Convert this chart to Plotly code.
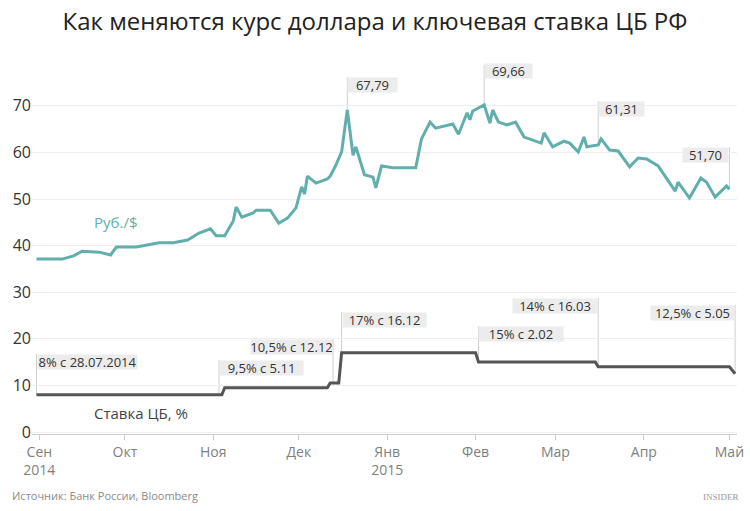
import numpy as np
import pandas as pd
import plotly.graph_objects as go

# ---------------- data ----------------
usd_dates = ["2014-08-31", "2014-09-09", "2014-09-13", "2014-09-16", "2014-09-22", "2014-09-26", "2014-09-28",
             "2014-10-05", "2014-10-13", "2014-10-18", "2014-10-23", "2014-10-27", "2014-10-31", "2014-11-02",
             "2014-11-05", "2014-11-08", "2014-11-09", "2014-11-11", "2014-11-15", "2014-11-16", "2014-11-21",
             "2014-11-24", "2014-11-27", "2014-11-30", "2014-12-02", "2014-12-03", "2014-12-04", "2014-12-07",
             "2014-12-11", "2014-12-12", "2014-12-14", "2014-12-16", "2014-12-18", "2014-12-20", "2014-12-21",
             "2014-12-24", "2014-12-27", "2014-12-28", "2014-12-30", "2015-01-03", "2015-01-11", "2015-01-13",
             "2015-01-16", "2015-01-18", "2015-01-24", "2015-01-26", "2015-01-29", "2015-01-30", "2015-01-31",
             "2015-02-04", "2015-02-06", "2015-02-07", "2015-02-09", "2015-02-12", "2015-02-15", "2015-02-18",
             "2015-02-24", "2015-02-25", "2015-02-28", "2015-03-04", "2015-03-06", "2015-03-09", "2015-03-11",
             "2015-03-12", "2015-03-16", "2015-03-17", "2015-03-20", "2015-03-23", "2015-03-27", "2015-03-30",
             "2015-04-02", "2015-04-06", "2015-04-12", "2015-04-13", "2015-04-17", "2015-04-21", "2015-04-23",
             "2015-04-26", "2015-04-30", "2015-05-01"]
usd_values = [37.1, 37.1, 37.8, 38.8, 38.6, 38.0, 39.7, 39.7, 40.6, 40.6,
              41.2, 42.7, 43.6, 42.1, 42.1, 45.3, 48.3, 46.1, 47.0, 47.6,
              47.6, 44.8, 45.9, 48.1, 52.6, 51.1, 54.9, 53.4, 54.3, 54.9,
              57.3, 60.1, 69.1, 59.4, 61.2, 55.2, 54.7, 52.4, 57.1, 56.7,
              56.7, 62.9, 66.5, 65.2, 66.1, 63.9, 68.5, 67.0, 68.9, 70.2,
              66.3, 69.1, 66.5, 65.9, 66.5, 63.3, 62.0, 64.2, 61.2, 62.4,
              62.0, 60.1, 63.3, 61.2, 61.6, 62.9, 60.5, 60.3, 56.9, 58.8,
              58.6, 57.1, 51.7, 53.6, 50.2, 54.5, 53.6, 50.4, 52.8, 52.1]

rate_dates = ["2014-08-31", "2014-11-04", "2014-11-05", "2014-12-11", "2014-12-12", "2014-12-15",
              "2014-12-16", "2015-02-01", "2015-02-02", "2015-03-15", "2015-03-16", "2015-05-01", "2015-05-03"]
rate_values = [8.0, 8.0, 9.5, 9.5, 10.5, 10.5, 17.0, 17.0, 15.0, 15.0, 14.0, 14.0, 12.5]

month_ticks = ["2014-09-01", "2014-10-01", "2014-11-01", "2014-12-01", "2015-01-01",
               "2015-02-01", "2015-03-01", "2015-04-01", "2015-05-01"]
month_labels = ["Сен<br>2014", "Окт", "Ноя", "Дек", "Янв<br>2015", "Фев", "Мар", "Апр", "Май"]
y_ticks = [0, 10, 20, 30, 40, 50, 60, 70]

usd_note_dates = ["2014-12-18", "2015-02-04", "2015-03-16", "2015-05-01"]
usd_note_texts = ["67,79", "69,66", "61,31", "51,70"]
usd_note_side = ["right", "right", "right", "left"]
usd_note_lift = [33, 42, 44, 42]
usd_note_width = [49, 47, 45, 45]

rate_note_dates = ["2014-08-31", "2014-11-03", "2014-12-13", "2014-12-16", "2015-02-02", "2015-03-16", "2015-05-03"]
rate_note_texts = ["8% с 28.07.2014", "9,5% с 5.11", "10,5% с 12.12", "17% с 16.12",
                   "15% с 2.02", "14% с 16.03", "12,5% с 5.05"]
rate_note_side = ["right", "right", "left", "right", "right", "left", "left"]
rate_note_lift = [41, 35, 44, 41, 36, 69, 69]
rate_note_width = [99, 83, 81, 83, 84, 84, 83]

TEAL = "#61afac"
DARK = "#555555"
FONT = "Open Sans"


def value_at(dates, values, when):
    t = pd.to_datetime(pd.Series(dates)).astype("int64").to_numpy()
    return float(np.interp(pd.Timestamp(when).value, t, values))


fig = go.Figure()
fig.add_trace(go.Scatter(x=rate_dates, y=rate_values, mode="lines",
                         line=dict(color=DARK, width=3), hoverinfo="skip"))
fig.add_trace(go.Scatter(x=usd_dates, y=usd_values, mode="lines",
                         line=dict(color=TEAL, width=3), hoverinfo="skip"))


def add_notes(dates, texts, sides, lifts, widths, sdates, svalues):
    for d, t, s, l, w in zip(dates, texts, sides, lifts, widths):
        v = value_at(sdates, svalues, d)
        fig.add_shape(type="line", xref="x", yref="y", x0=d, x1=d,
                      ysizemode="pixel", yanchor=v, y0=0, y1=l,
                      line=dict(color="#cfcfcf", width=1), layer="below")
        fig.add_annotation(x=d, y=v, xref="x", yref="y", text=t, showarrow=False,
                           xanchor="left" if s == "right" else "right", yanchor="top",
                           yshift=l, width=w, height=14, bgcolor="#ececec", borderpad=0,
                           font=dict(family=FONT, size=13, color="#333333"))


add_notes(usd_note_dates, usd_note_texts, usd_note_side, usd_note_lift, usd_note_width,
          usd_dates, usd_values)
add_notes(rate_note_dates, rate_note_texts, rate_note_side, rate_note_lift, rate_note_width,
          rate_dates, rate_values)

# series labels
fig.add_annotation(xref="paper", yref="paper", x=0.0851, y=0.5745, text="Руб./$", showarrow=False,
                   xanchor="left", yanchor="middle", font=dict(family=FONT, size=15, color=TEAL))
fig.add_annotation(xref="paper", yref="paper", x=0.0851, y=0.0569, text="Ставка ЦБ, %", showarrow=False,
                   xanchor="left", yanchor="middle", font=dict(family=FONT, size=15, color="#444444"))
# footer
fig.add_annotation(xref="paper", yref="paper", x=-0.0312, y=-0.168, text="Источник: Банк России, Bloomberg",
                   showarrow=False, xanchor="left", yanchor="middle",
                   font=dict(family=FONT, size=11, color="#8a8a8a"))
fig.add_annotation(xref="paper", yref="paper", x=1.005, y=-0.172, text="INSIDER",
                   showarrow=False, xanchor="right", yanchor="middle",
                   font=dict(family="Liberation Serif", size=9, color="#999999"))

fig.update_layout(
    width=750, height=511,
    margin=dict(l=32, r=13, t=65, b=77, autoexpand=False),
    paper_bgcolor="white", plot_bgcolor="white",
    showlegend=False,
    title=dict(text="Как меняются курс доллара и ключевая ставка ЦБ РФ",
               x=0.5, xanchor="center", y=1 - 22 / 511, yanchor="middle", yref="container",
               font=dict(family=FONT, size=24, color="#222222")),
    xaxis=dict(type="date", range=["2014-08-29 10:00", "2015-05-03 16:00"], automargin=False,
               tickmode="array", tickvals=month_ticks, ticktext=month_labels,
               showgrid=False, zeroline=False, showline=True, linecolor="#cccccc", linewidth=1,
               ticks="outside", ticklen=5, tickcolor="#cccccc",
               tickfont=dict(family=FONT, size=14, color="#808080")),
    yaxis=dict(range=[-0.43, 78.76], tickmode="array", tickvals=y_ticks, automargin=False,
               showgrid=True, gridcolor="#efefef", gridwidth=1, zeroline=False, showline=False,
               ticks="", tickfont=dict(family=FONT, size=16, color="#333333")),
)

fig.write_html("out.html", config={"displayModeBar": False},
               post_script="document.body.style.margin='0';document.body.style.overflow='hidden';")
